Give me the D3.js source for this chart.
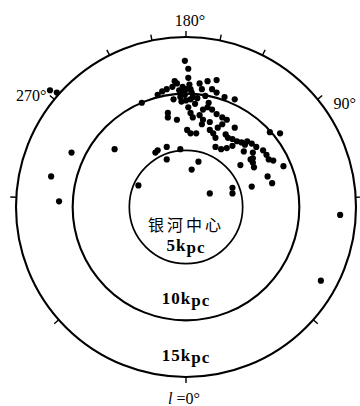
<!DOCTYPE html>
<html>
<head>
<meta charset="utf-8">
<script src="https://cdn.jsdelivr.net/npm/d3@7"></script>
<style>
  html, body { margin: 0; padding: 0; background: #fff; }
  svg { display: block; }
</style>
</head>
<body>
<div id="chart"></div>
<script>
// distances in kpc, galactic centre at origin, x to the right, y upward
const ringRadii = [5, 10, 15];
const ringLabels = ["5", "10", "15"];
const sunDist = 9.5;
const tickLongitudes = [0, 30, 60, 90, 120, 150, 180, 210, 240, 270, 300, 330];
const lonLabels = [180, 90, 270, 0];
const lonLabelText = ["180°", "90°", "270°", "=0°"];

// cluster positions (kpc)
const clusterX = [
  -10.1, -11.9, -11.2, -6.3, -4.2, 13.6, 11.9, -3.9, -12.0, -11.4,
  -0.1, 0.2, 0.2,
  -1.0, -0.8, -1.2, -1.7, -2.1, -2.5, -0.3, 0.3, 0.4, 0.5,
  1.2, 1.4, 1.9, 2.7, 2.3, 2.7, 3.4, 4.3, -0.1, 0.4,
  -0.4, 0.8, 0.2, -0.5, -1.1, -0.2,
  -1.6, -1.6, -0.8, 0.4, 0.6, 1.2, 1.9, 2.3, 2.7, 1.5,
  1.4, 2.1, 3.2, 3.6, 3.2, 0.1, 0.4, 0.9, 2.1, 2.4,
  2.6, 3.5, 3.7, 4.1, 4.5, 4.9, 5.2, 4.3, 5.4, 5.8,
  6.2, 7.4, 8.3, 2.6, 3.1, 3.6, 4.1,
  5.9, 5.9, 5.9, 6.0, 6.8, 7.1, 7.3, 7.7, 4.8, 8.6,
  7.2, 7.6, 5.8, 4.1, 4.1, 2.1, 1.1, 0.5, -0.5, -1.7,
  -1.7, -2.7, -2.5, 5.7,
  0.0, 0.6, 0.0, 1.0, -0.6, 1.7, 2.0, 1.5, 2.8, 5.1
];
const clusterY = [
  4.8, 2.7, 0.5, 5.1, 1.9, -0.7, -6.5, 9.2, 10.3, 10.1,
  12.9, 12.2, 11.4,
  11.1, 10.9, 10.6, 10.4, 10.2, 9.9, 10.6, 10.8, 10.4, 10.1,
  10.9, 10.4, 11.1, 11.2, 10.4, 10.1, 9.7, 9.5, 9.9, 9.5,
  9.3, 9.1, 8.8, 9.7, 9.5, 10.2,
  8.3, 7.9, 7.7, 8.3, 7.9, 8.1, 8.8, 8.6, 8.2, 7.7,
  7.3, 7.5, 7.9, 7.7, 7.3, 6.8, 6.5, 6.5, 6.8, 6.5,
  6.1, 6.4, 6.1, 6.0, 5.8, 5.7, 5.5, 7.0, 5.8, 5.6,
  5.3, 6.6, 6.5, 5.3, 5.1, 5.2, 5.4,
  4.8, 4.3, 3.9, 3.5, 5.0, 4.6, 4.2, 4.1, 3.7, 3.6,
  2.7, 2.1, 1.8, 1.7, 1.2, 1.2, 4.0, 3.3, 5.1, 5.3,
  4.2, 4.8, 5.0, 4.2,
  10.4, 9.7, 9.4, 9.6, 10.3, 9.8, 9.2, 8.6, 7.0, 4.9
];

const width = 360, height = 406;
const cx = 186, cy = 207, R = 170;

const svg = d3.select("#chart").append("svg")
  .attr("width", width)
  .attr("height", height);

const x = d3.scaleLinear().domain([-15, 15]).range([cx - R, cx + R]);
const y = d3.scaleLinear().domain([-15, 15]).range([cy + R, cy - R]);

// rings
svg.selectAll(".ring")
  .data(ringRadii)
  .enter().append("circle")
  .attr("class", "ring")
  .attr("cx", x(0))
  .attr("cy", y(0))
  .attr("r", d => x(d) - x(0))
  .attr("fill", "none")
  .attr("stroke", "#000")
  .attr("stroke-width", (d, i) => i === 0 ? 1.7 : 2.1);

// where a sight line of longitude l from the sun meets the outer ring
function edgePoint(l) {
  const a = l * Math.PI / 180;
  const dx = Math.sin(a), dy = -Math.cos(a);
  const sd = sunDist * dy;
  const rOut = ringRadii[ringRadii.length - 1];
  const t = -sd + Math.sqrt(sd * sd - sunDist * sunDist + rOut * rOut);
  return [t * dx, sunDist + t * dy];
}

// longitude ticks on the outer ring
const tickLen = 6;
svg.selectAll(".lon-tick")
  .data(tickLongitudes)
  .enter().append("line")
  .attr("class", "lon-tick")
  .attr("x1", d => x(edgePoint(d)[0]))
  .attr("y1", d => y(edgePoint(d)[1]))
  .attr("x2", d => {
    const p = edgePoint(d), n = Math.hypot(p[0], p[1]);
    return x(p[0]) + tickLen * p[0] / n;
  })
  .attr("y2", d => {
    const p = edgePoint(d), n = Math.hypot(p[0], p[1]);
    return y(p[1]) - tickLen * p[1] / n;
  })
  .attr("stroke", "#000")
  .attr("stroke-width", 1.4);

// longitude labels
const labelOffset = {180: [4, -11, "middle"], 90: [16, 10, "start"], 270: [-8, 2, "end"], 0: [-2, 27, "middle"]};
lonLabels.forEach((l, i) => {
  const p = edgePoint(l);
  const o = labelOffset[l];
  const t = svg.append("text")
    .attr("x", x(p[0]) + o[0])
    .attr("y", y(p[1]) + o[1])
    .attr("text-anchor", o[2])
    .style("font-family", "'Liberation Serif', serif")
    .style("font-size", "16px")
    .attr("fill", "#000");
  if (l === 0) {
    t.append("tspan").style("font-style", "italic").text("l ");
  }
  t.append("tspan").text(lonLabelText[i]);
});

// ring distance labels
const ringLabelY = [44, 97, 154];
ringLabels.forEach((s, i) => {
  const t = svg.append("text")
    .attr("x", x(0))
    .attr("y", y(0) + ringLabelY[i])
    .attr("text-anchor", "middle")
    .style("font-family", "'Liberation Serif', serif")
    .style("font-size", "17px")
    .style("font-weight", "bold")
    .style("letter-spacing", "1px")
    .attr("fill", "#000");
  t.append("tspan").text(s + "k");
  t.append("tspan").attr("dy", 2).text("pc");
});

svg.append("text")
  .attr("x", x(0))
  .attr("y", y(0) + 24)
  .attr("text-anchor", "middle")
  .style("font-family", "'Noto Sans CJK SC', sans-serif")
  .style("font-size", "16px")
  .style("letter-spacing", "3px")
  .attr("fill", "#000")
  .text("银河中心");

// clusters
svg.selectAll(".dot")
  .data(d3.range(clusterX.length))
  .enter().append("circle")
  .attr("class", "dot")
  .attr("cx", i => x(clusterX[i]))
  .attr("cy", i => y(clusterY[i]))
  .attr("r", 3.1)
  .attr("fill", "#000");
</script>
</body>
</html>
